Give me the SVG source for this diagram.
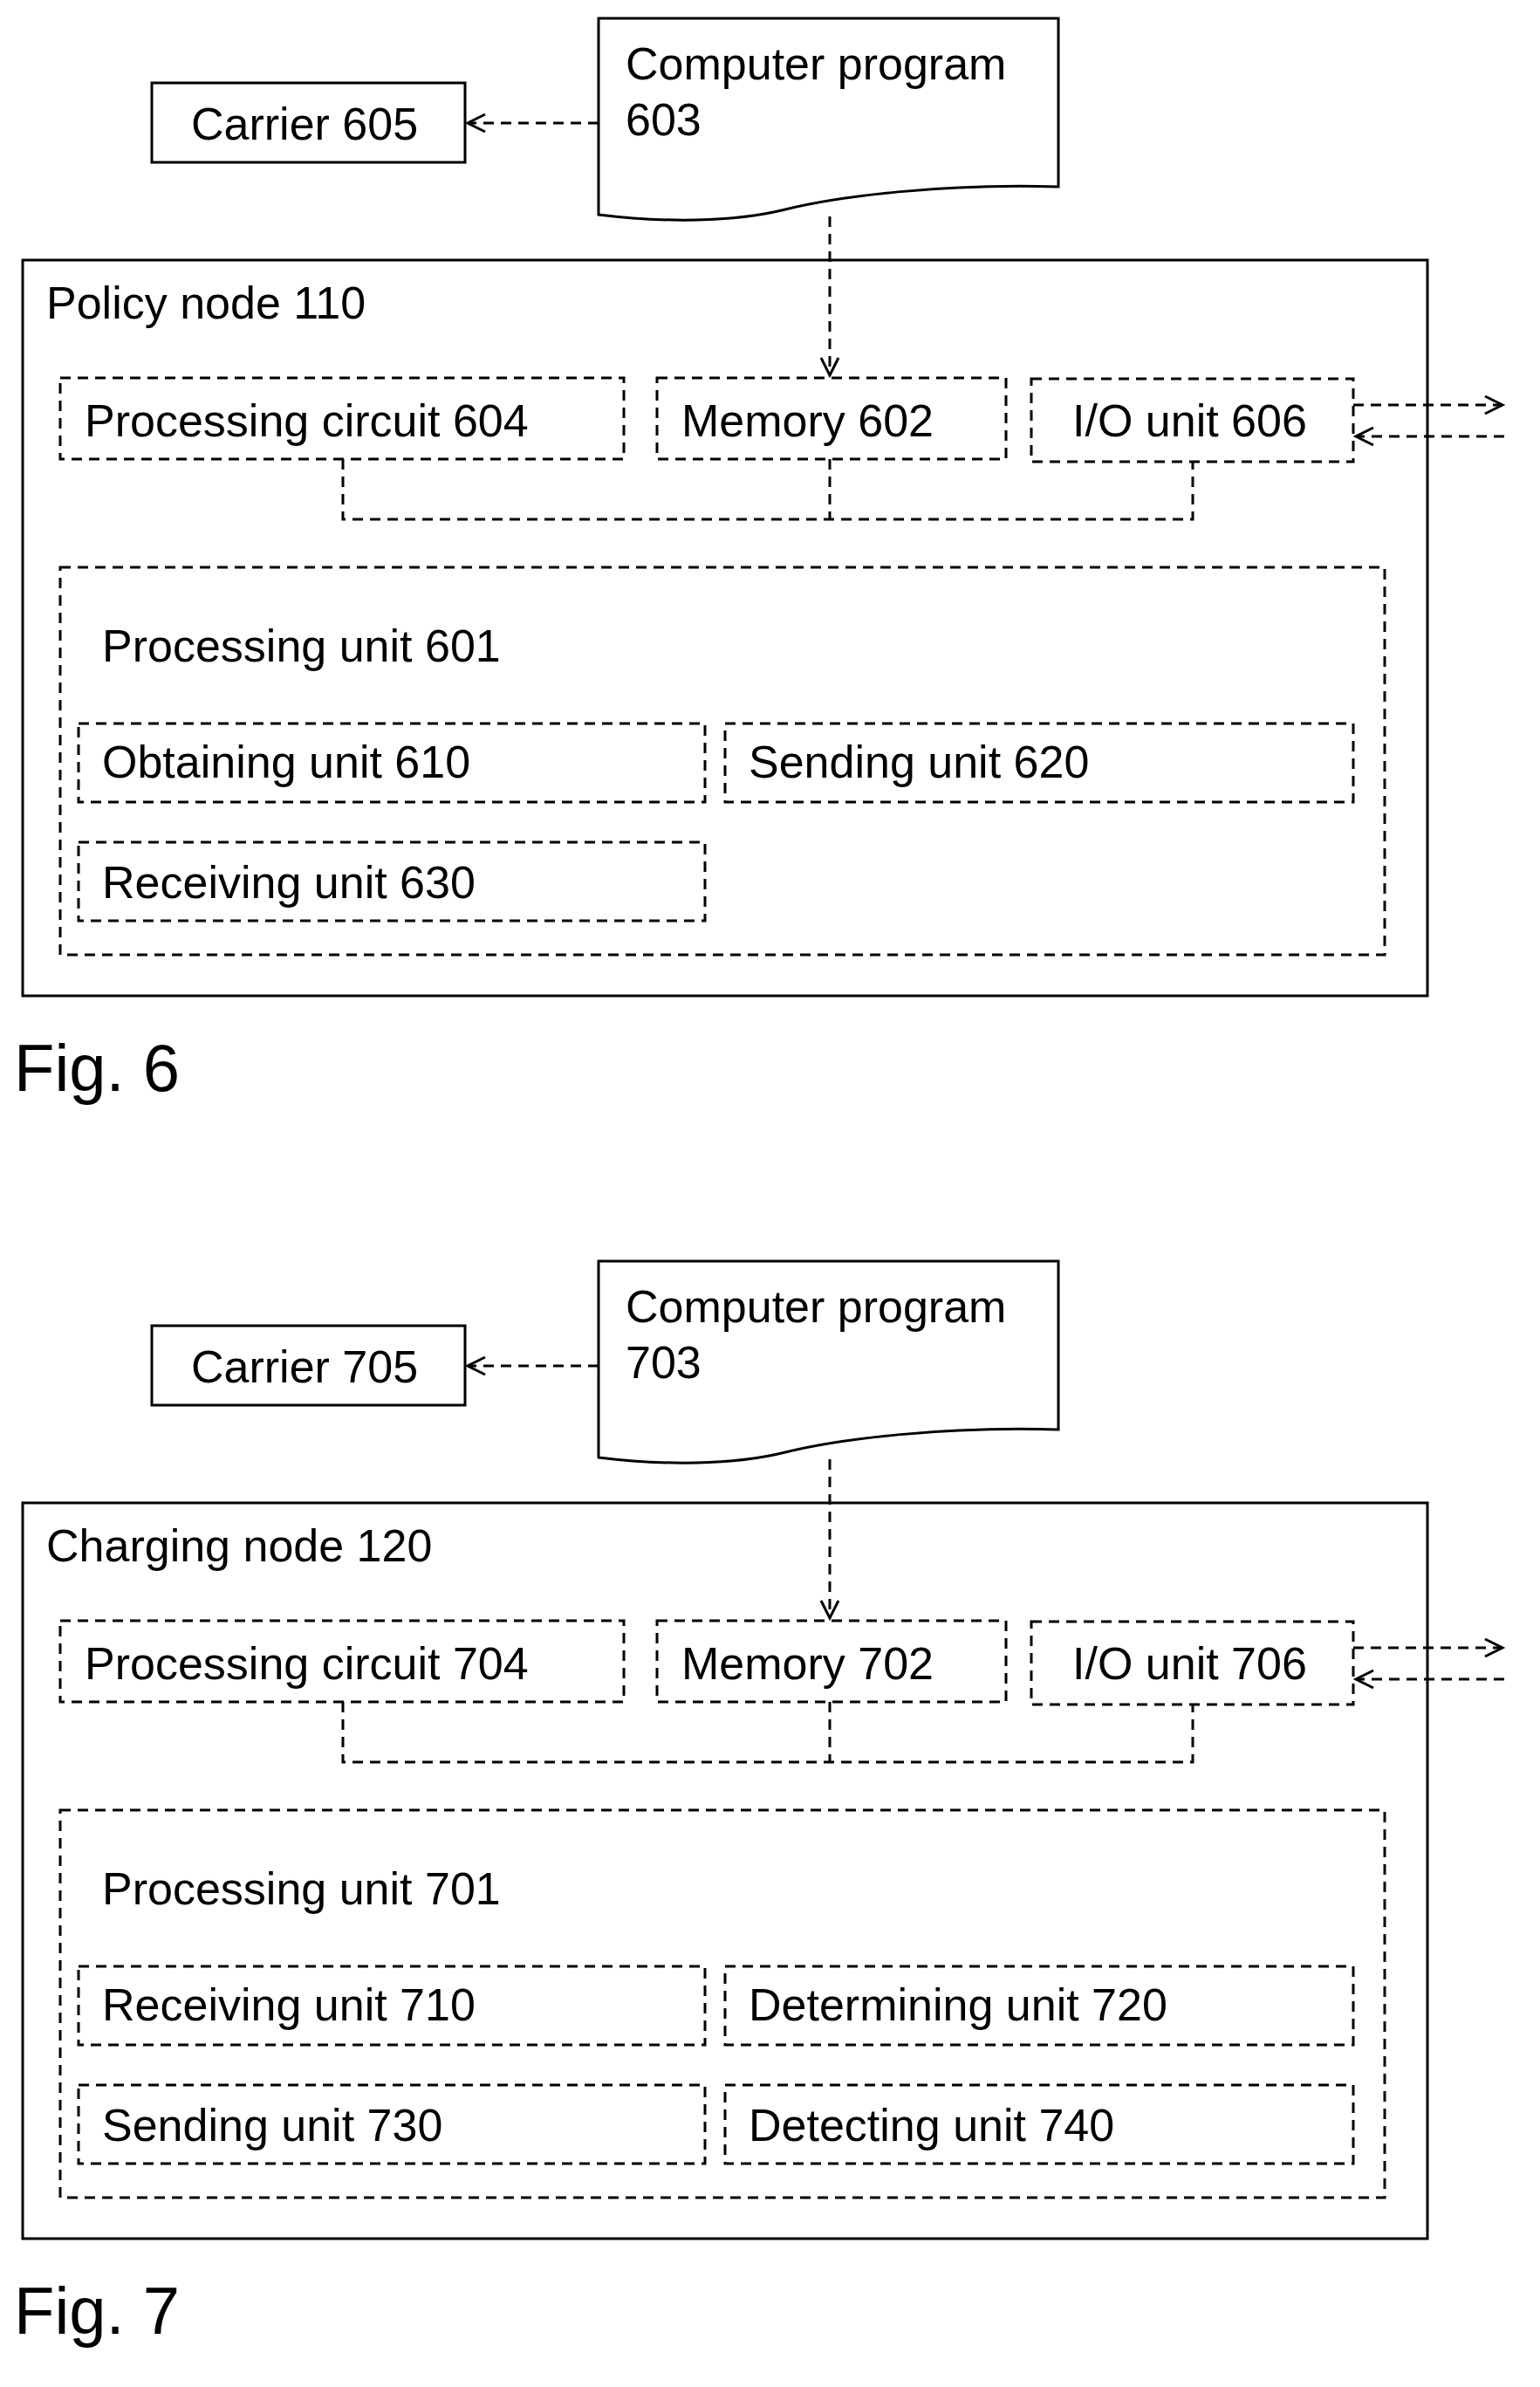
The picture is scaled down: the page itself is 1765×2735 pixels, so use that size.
<svg xmlns="http://www.w3.org/2000/svg" width="1765" height="2735" viewBox="0 0 1765 2735">
<style>
text{font-family:"Liberation Sans",Arial,sans-serif;font-size:52px;fill:#000}
.s{fill:#fff;stroke:#000;stroke-width:3}
.d{fill:none;stroke:#000;stroke-width:3;stroke-dasharray:12 8}
.fig{font-size:76px}
</style>
<defs>
<marker id="a" markerWidth="30" markerHeight="30" refX="22" refY="12" orient="auto" markerUnits="userSpaceOnUse">
<polyline points="2,2 22,12 2,22" fill="none" stroke="#000" stroke-width="3"/>
</marker>
</defs>
<rect width="1765" height="2735" fill="#fff"/>
<g id="fig6">
<g id="carrier605"><rect class="s" x="174" y="95" width="359" height="91"/><text x="219" y="160">Carrier 605</text></g>
<g id="program603"><path class="s" d="M686 21 H1213 V214 C1080 210 960 225 900 240 C840 255 760 255 686 246 Z"/><text x="717" y="91">Computer program</text><text x="717" y="155">603</text></g>
<g id="policy110"><rect class="s" x="26" y="298" width="1610" height="843"/><text x="53" y="365">Policy node 110</text></g>
<g id="pc604"><rect class="d" x="69" y="433" width="646" height="93"/><text x="97" y="500">Processing circuit 604</text></g>
<g id="mem602"><rect class="d" x="753" y="433" width="400" height="93"/><text x="781" y="500">Memory 602</text></g>
<g id="io606"><rect class="d" x="1182" y="434" width="369" height="95"/><text x="1229" y="500">I/O unit 606</text></g>
<g id="pu601"><rect class="d" x="69" y="650" width="1518" height="444"/><text x="117" y="758">Processing unit 601</text></g>
<g id="u610"><rect class="d" x="90" y="829" width="718" height="90"/><text x="117" y="891">Obtaining unit 610</text></g>
<g id="u620"><rect class="d" x="831" y="829" width="720" height="90"/><text x="858" y="891">Sending unit 620</text></g>
<g id="u630"><rect class="d" x="90" y="965" width="718" height="90"/><text x="117" y="1029">Receiving unit 630</text></g>
<g id="conn6">
<line class="d" x1="686" y1="141" x2="536" y2="141" marker-end="url(#a)"/>
<line class="d" x1="951" y1="248" x2="951" y2="430" marker-end="url(#a)"/>
<line class="d" x1="1551" y1="464" x2="1722" y2="464" marker-end="url(#a)"/>
<line class="d" x1="1724" y1="500" x2="1554" y2="500" marker-end="url(#a)"/>
<polyline class="d" points="393,526 393,595 1367,595 1367,529"/>
<line class="d" x1="951" y1="526" x2="951" y2="595"/>
</g>
<text class="fig" x="16" y="1250">Fig. 6</text>
</g>
<g id="fig7" transform="translate(0,1424)">
<g id="carrier705"><rect class="s" x="174" y="95" width="359" height="91"/><text x="219" y="160">Carrier 705</text></g>
<g id="program703"><path class="s" d="M686 21 H1213 V214 C1080 210 960 225 900 240 C840 255 760 255 686 246 Z"/><text x="717" y="91">Computer program</text><text x="717" y="155">703</text></g>
<g id="charging120"><rect class="s" x="26" y="298" width="1610" height="843"/><text x="53" y="365">Charging node 120</text></g>
<g id="pc704"><rect class="d" x="69" y="433" width="646" height="93"/><text x="97" y="500">Processing circuit 704</text></g>
<g id="mem702"><rect class="d" x="753" y="433" width="400" height="93"/><text x="781" y="500">Memory 702</text></g>
<g id="io706"><rect class="d" x="1182" y="434" width="369" height="95"/><text x="1229" y="500">I/O unit 706</text></g>
<g id="pu701"><rect class="d" x="69" y="650" width="1518" height="444"/><text x="117" y="758">Processing unit 701</text></g>
<g id="u710"><rect class="d" x="90" y="829" width="718" height="90"/><text x="117" y="891">Receiving unit 710</text></g>
<g id="u720"><rect class="d" x="831" y="829" width="720" height="90"/><text x="858" y="891">Determining unit 720</text></g>
<g id="u730"><rect class="d" x="90" y="965" width="718" height="90"/><text x="117" y="1029">Sending unit 730</text></g>
<g id="u740"><rect class="d" x="831" y="965" width="720" height="90"/><text x="858" y="1029">Detecting unit 740</text></g>
<g id="conn7">
<line class="d" x1="686" y1="141" x2="536" y2="141" marker-end="url(#a)"/>
<line class="d" x1="951" y1="248" x2="951" y2="430" marker-end="url(#a)"/>
<line class="d" x1="1551" y1="464" x2="1722" y2="464" marker-end="url(#a)"/>
<line class="d" x1="1724" y1="500" x2="1554" y2="500" marker-end="url(#a)"/>
<polyline class="d" points="393,526 393,595 1367,595 1367,529"/>
<line class="d" x1="951" y1="526" x2="951" y2="595"/>
</g>
<text class="fig" x="16" y="1250">Fig. 7</text>
</g>
</svg>
